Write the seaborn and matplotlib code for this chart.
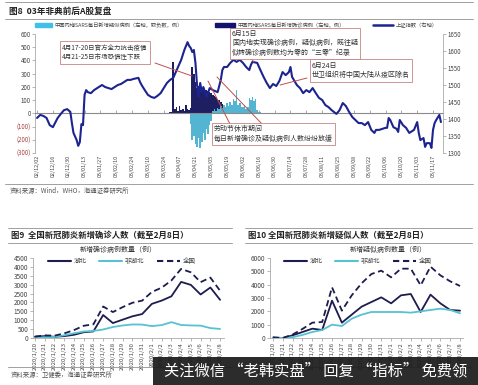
import numpy as np
import pandas as pd
import matplotlib
matplotlib.use('Agg')
import matplotlib.pyplot as plt
import seaborn as sns
from matplotlib.lines import Line2D
from matplotlib.patches import Patch, Rectangle
from matplotlib.ticker import FuncFormatter

# ---------------- data: 图8 ----------------
top_labels = ['02/12/02', '02/12/16', '02/12/30', '03/01/13', '03/01/27', '03/02/10',
              '03/02/24', '03/03/10', '03/03/24', '03/04/07', '03/04/21', '03/05/05',
              '03/05/19', '03/06/02', '03/06/16', '03/06/30', '03/07/14', '03/07/28',
              '03/08/11', '03/08/25', '03/09/08', '03/09/22', '03/10/06', '03/10/20',
              '03/11/03', '03/11/17']
label_day = list(range(0, 251, 10))

sh_day = [0, 2, 4, 6, 8, 10, 13, 15, 17, 19, 21, 22, 23, 25, 26, 27, 28, 29, 30, 31,
          32, 34, 36, 39, 41, 43, 45, 47, 49, 51, 53, 55, 57, 59, 61, 64, 65, 66, 68, 70,
          72, 74, 76, 78, 80, 82, 84, 86, 89, 91, 93, 95, 96, 97, 98, 99, 100, 101, 102, 103,
          104, 105, 107, 109, 111, 114, 116, 117, 118, 120, 122, 124, 126, 128, 130, 132, 134, 135, 136, 139,
          141, 143, 145, 147, 149, 151, 153, 155, 157, 159, 160, 161, 164, 166, 168, 170, 172, 174, 176, 178,
          180, 182, 184, 186, 189, 191, 193, 195, 197, 199, 201, 203, 205, 207, 209, 211, 213, 214, 216, 218,
          220, 221, 222, 223, 225, 227, 228, 229, 231, 233, 235, 238, 240, 241, 242, 244, 245, 246, 248, 249,
          250, 251, 252, 254, 255]
sh_index = [1403, 1412, 1409, 1403, 1382, 1376, 1403, 1415, 1426, 1429, 1421, 1388, 1359, 1338, 1321, 1332, 1385, 1382, 1471, 1485,
            1479, 1476, 1485, 1494, 1500, 1494, 1491, 1488, 1494, 1500, 1503, 1509, 1515, 1515, 1518, 1521, 1509, 1500, 1485, 1471,
            1465, 1462, 1468, 1476, 1491, 1506, 1515, 1521, 1553, 1574, 1603, 1626, 1615, 1609, 1597, 1603, 1565, 1500, 1465, 1506,
            1479, 1494, 1465, 1491, 1485, 1479, 1515, 1544, 1553, 1553, 1565, 1574, 1568, 1574, 1565, 1553, 1544, 1559, 1568, 1565,
            1544, 1524, 1506, 1491, 1503, 1497, 1512, 1538, 1529, 1538, 1553, 1524, 1500, 1491, 1476, 1485, 1479, 1491, 1476, 1462,
            1456, 1441, 1435, 1426, 1415, 1426, 1447, 1438, 1421, 1406, 1397, 1388, 1388, 1382, 1391, 1368, 1359, 1368, 1368, 1371,
            1374, 1374, 1403, 1397, 1376, 1371, 1362, 1397, 1382, 1374, 1359, 1368, 1391, 1359, 1338, 1344, 1318, 1329, 1329, 1315,
            1368, 1388, 1397, 1412, 1391]

bar_day = list(range(82, 166))
sars_confirmed = [0, 0, 8, 12, 385, 30, 45, 20, 55, 25, 32, 15, 60, 35, 25, 40, 350, 300, 235, 195,
                  205, 190, 185, 195, 180, 175, 168, 160, 150, 142, 130, 120, 112, 100, 88, 72, 60, 50, 42, 32,
                  25, 20, 16, 13, 11, 10, 8, 7, 6, 6, 5, 5, 4, 5, 3, 4, 3, 3, 2, 3,
                  2, 2, 3, 2, 2, 1, 2, 1, 1, 2, 1, 1, 1, 0, 1, 0, 1, 0, 1, 0,
                  0, 1, 0, 0]
sars_suspected = [0, 0, 0, 0, 0, 0, 0, 0, 0, 0, 0, 0, 0, 0, 0, -80, -200, -170, -235, -255,
                  -190, -260, -220, -150, -200, -120, -160, -90, -60, 20, 35, 15, 40, 30, 55, 40, 65, 50, 75, 55,
                  85, 60, 110, 90, 175, 60, 80, 50, 45, 65, 30, 45, 115, 100, 122, 95, 110, 25, 10, 8,
                  5, 0, 0, 0, 0, 0, 0, 0, 0, 0, 0, 0, 0, 0, 0, 0, 0, 0, 0, 0,
                  0, 0, 0, 0]

# ---------------- data: 图9 / 图10 ----------------
covid_dates = ['2020/1/20', '2020/1/21', '2020/1/22', '2020/1/23', '2020/1/24', '2020/1/25',
               '2020/1/26', '2020/1/27', '2020/1/28', '2020/1/29', '2020/1/30', '2020/1/31',
               '2020/2/1', '2020/2/2', '2020/2/3', '2020/2/4', '2020/2/5', '2020/2/6',
               '2020/2/7', '2020/2/8']
hubei_conf = [72, 105, 69, 105, 180, 323, 371, 1291, 840, 1032, 1220, 1347, 1921, 2103, 2345, 3156, 2987, 2447, 2841, 2147]
nonhubei_conf = [5, 44, 62, 154, 264, 365, 398, 480, 619, 705, 762, 755, 669, 726, 890, 731, 707, 696, 558, 509]
national_conf = [77, 149, 131, 259, 444, 688, 769, 1771, 1459, 1737, 1982, 2102, 2590, 2829, 3235, 3887, 3694, 3143, 3399, 2656]

hubei_susp = [0, 0, 200, 450, 700, 600, 2800, 1150, 1750, 2350, 2700, 3050, 2600, 3200, 3300, 1950, 3250, 2600, 2100, 2050]
nonhubei_susp = [50, 0, 60, 230, 450, 600, 1000, 900, 1450, 1750, 1950, 1950, 1950, 1950, 1900, 2000, 2100, 2200, 2100, 1850]
national_susp = [50, 0, 260, 680, 1150, 1200, 3800, 2050, 3200, 4100, 4800, 5050, 4550, 5200, 5200, 3950, 5350, 4700, 4250, 3900]

series_names = ['湖北', '非湖北', '全国']

# ---------------- style ----------------
sns.set_theme(style='white')
plt.rcParams['font.family'] = ['Noto Sans CJK SC', 'DejaVu Sans']
plt.rcParams['axes.unicode_minus'] = False

W, H = 478, 385
fig = plt.figure(figsize=(W / 100, H / 100), dpi=100)


def fx(x):
    return x / W


def fy(y):
    return 1 - y / H


def rect(x0, y0, x1, y1):
    return [x0 / W, 1 - y1 / H, (x1 - x0) / W, (y1 - y0) / H]


def hline(y, x0, x1, color='#a0a0a0', lw=0.7):
    fig.add_artist(Line2D([fx(x0), fx(x1)], [fy(y), fy(y)], transform=fig.transFigure,
                          color=color, lw=lw))


NAVY_BAR = '#13146e'
CYAN_BAR = '#3fc0e8'
LINE_BLUE = '#1c2490'
DARK = '#1d1c4e'
TEAL = '#56c2d2'
TXT = '#333333'

# ---------------- 图8 ----------------
ax = fig.add_axes(rect(35, 34, 443, 153))
df_bar = pd.DataFrame({
    'day': bar_day * 2,
    'cases': sars_confirmed + sars_suspected,
    'kind': ['确诊'] * len(bar_day) + ['疑似'] * len(bar_day),
})
sns.barplot(data=df_bar, x='day', y='cases', hue='kind', hue_order=['确诊', '疑似'],
            palette={'确诊': NAVY_BAR, '疑似': CYAN_BAR}, native_scale=True, dodge=False,
            width=1.0, errorbar=None, linewidth=0, legend=False, ax=ax)
ax.set_xlim(-1.3, 256.3)
ax.set_ylim(-300, 600)
ax.set_yticks(range(-300, 601, 100))
ax.yaxis.set_major_formatter(FuncFormatter(lambda v, p: f'({abs(int(v))})' if v < 0 else f'{int(v)}'))
ax.tick_params(axis='y', left=True, labelsize=4.4, length=2, width=0.5, pad=1, color='#999')
for lbl in ax.get_yticklabels():
    lbl.set_color('#a8423a' if '(' in lbl.get_text() else '#444')
for s in ['top', 'right']:
    ax.spines[s].set_visible(False)
ax.spines['left'].set_color('#aaaaaa')
ax.spines['left'].set_linewidth(0.6)
ax.spines['bottom'].set_position(('data', 0))
ax.spines['bottom'].set_color('#8a8a8a')
ax.spines['bottom'].set_linewidth(0.8)
ax.set_xticks(label_day)
ax.tick_params(axis='x', bottom=True, labelbottom=False, length=2, width=0.5, direction='in', color='#888')
ax.set_xlabel('')
ax.set_ylabel('')
sec = ax.secondary_xaxis('bottom')
sec.set_xticks(label_day, labels=top_labels)
sec.tick_params(length=0, labelsize=3.9, rotation=90, pad=1.5, labelcolor='#444')
sec.spines['bottom'].set_visible(False)

ax2 = ax.twinx()
sns.lineplot(x=sh_day, y=sh_index, ax=ax2, color=LINE_BLUE, lw=1.5)
ax2.set_ylim(1300, 1650)
ax2.set_yticks(range(1300, 1651, 50))
ax2.tick_params(axis='y', right=True, labelsize=4.4, length=2, width=0.5, pad=1.5, color='#999', labelcolor='#444')
for s in ['top', 'left', 'bottom']:
    ax2.spines[s].set_visible(False)
ax2.spines['right'].set_color('#aaaaaa')
ax2.spines['right'].set_linewidth(0.6)
ax2.set_xlabel('')
ax2.set_ylabel('')

# title & header lines
hline(2, 5, 473)
hline(19, 5, 473)
fig.text(fx(9), fy(11), '图8  03年非典前后A股复盘', fontsize=6.2, fontweight='bold', color='#222', va='center')

# legends (top)
leg_kw = dict(frameon=False, fontsize=3.8, borderpad=0, borderaxespad=0, handletextpad=0.5,
              loc='center left', labelcolor='#444')
fig.legend([Patch(color=CYAN_BAR)], ['中国内地SARS每日新增疑似病例（左轴，取负数，例）'],
           bbox_to_anchor=(fx(35), fy(25)), handlelength=3.2, handleheight=0.9, **leg_kw)
fig.legend([Patch(color=NAVY_BAR)], ['中国内地SARS每日新增确诊病例（左轴，例）'],
           bbox_to_anchor=(fx(215), fy(25)), handlelength=3.8, handleheight=0.9, **leg_kw)
fig.legend([Line2D([], [], color=LINE_BLUE, lw=1.8)], ['上证指数（右轴）'],
           bbox_to_anchor=(fx(373), fy(25)), handlelength=3.8, **leg_kw)

# annotation boxes
box_kw = dict(boxstyle='square,pad=0.35', fc='white', ec='#c58585', lw=0.6)
lead = '#c0504d'


def leader(x0, y0, x1, y1):
    fig.add_artist(Line2D([fx(x0), fx(x1)], [fy(y0), fy(y1)], transform=fig.transFigure,
                          color=lead, lw=0.7, zorder=2))


leader(155, 63, 192, 76)
leader(250, 57, 254, 62)
leader(307, 78, 280, 85)
leader(230, 124, 208, 81)
leader(262, 124, 217, 77)
fig.text(fx(62), fy(52.5), '4月17-20日官方全力抗击疫情\n4月21-25日市场恐慌性下跌', fontsize=4.7,
         color=TXT, va='center', ha='left', linespacing=1.3, bbox=box_kw, zorder=5)
fig.text(fx(232), fy(43.5), '6月15日\n国内地实现确诊病例，疑似病例，既往疑\n似转确诊病例数均为零的“三零”纪录',
         fontsize=5.0, color=TXT, va='center', ha='left', linespacing=1.2, bbox=box_kw, zorder=5)
fig.text(fx(312), fy(70.5), '6月24日\n世卫组织将中国大陆从疫区除名', fontsize=5.0, color=TXT,
         va='center', ha='left', linespacing=1.25, bbox=box_kw, zorder=5)
fig.text(fx(214), fy(134), '劳动节休市期间\n每日新增确诊及疑似病例人数纷纷放缓', fontsize=5.0, color=TXT,
         va='center', ha='left', linespacing=1.2, bbox=box_kw, zorder=5)

hline(184, 5, 473)
fig.text(fx(10), fy(190.5), '资料来源：Wind，WHO，海通证券研究所', fontsize=4.6, color='#555', va='center')


# ---------------- 图9 / 图10 ----------------
def covid_panel(box, hubei, nonhubei, national, ymax, ystep, title_xy, chart_title, legend_x):
    a = fig.add_axes(box)
    n = len(covid_dates)
    df = pd.DataFrame({
        'idx': list(range(n)) * 3,
        'val': hubei + nonhubei + national,
        'series': [series_names[0]] * n + [series_names[1]] * n + [series_names[2]] * n,
    })
    sns.lineplot(data=df, x='idx', y='val', hue='series', style='series', hue_order=series_names,
                 style_order=series_names,
                 palette={'湖北': DARK, '非湖北': TEAL, '全国': DARK},
                 dashes={'湖北': '', '非湖北': '', '全国': (3.5, 2)},
                 linewidth=1.3, legend=False, ax=a)
    a.set_ylim(0, ymax)
    a.set_yticks(range(0, ymax + 1, ystep))
    a.set_xticks(range(n), labels=covid_dates)
    a.tick_params(axis='x', bottom=True, labelsize=4.3, rotation=90, length=2, width=0.5, pad=1,
                  color='#999', labelcolor='#444')
    a.tick_params(axis='y', left=True, labelsize=4.6, length=2, width=0.5, pad=1.5,
                  color='#999', labelcolor='#444')
    for s in ['top', 'right']:
        a.spines[s].set_visible(False)
    for s in ['left', 'bottom']:
        a.spines[s].set_color('#aaaaaa')
        a.spines[s].set_linewidth(0.6)
    a.set_xlabel('')
    a.set_ylabel('')
    fig.text(fx(title_xy[0]), fy(title_xy[1]), chart_title, fontsize=5.0, color=TXT, ha='center', va='center')
    handles = [Line2D([], [], color=DARK, lw=1.5),
               Line2D([], [], color=TEAL, lw=1.5),
               Line2D([], [], color=DARK, lw=1.5, ls=(0, (3, 1.8)))]
    a.legend(handles, series_names, loc='center left', bbox_to_anchor=(fx(legend_x), fy(261)),
             bbox_transform=fig.transFigure, ncol=3, frameon=False, fontsize=4.7, handlelength=3.5,
             handletextpad=0.45, columnspacing=1.9, borderpad=0, borderaxespad=0, labelcolor='#444')
    return a


ax_b = covid_panel(rect(33, 258, 224, 338), hubei_conf, nonhubei_conf, national_conf, 4500, 500,
                   (118, 250), '新增确诊病例数量（例）', 48)
ax_b.set_xlim(-0.2, 19.4)
ax_c = covid_panel(rect(270, 258, 463, 338), hubei_susp, nonhubei_susp, national_susp, 6000, 1000,
                   (388, 250), '新增疑似病例数量（例）', 284)
ax_c.set_xlim(-0.3, 19.3)

hline(228, 8, 232)
hline(243, 8, 232)
hline(228, 245, 472)
hline(243, 245, 472)
fig.text(fx(11), fy(235.5), '图9  全国新冠肺炎新增确诊人数（截至2月8日）', fontsize=6.0, fontweight='bold',
         color='#222', va='center')
fig.text(fx(248), fy(235.5), '图10 全国新冠肺炎新增疑似人数（截至2月8日）', fontsize=6.0, fontweight='bold',
         color='#222', va='center')
hline(367, 8, 232)
hline(367, 245, 472)
fig.text(fx(11), fy(375), '资料来源：卫健委，海通证券研究所', fontsize=4.6, color='#555', va='center')

# watermark overlay
fig.add_artist(Rectangle((fx(153), 0), fx(478) - fx(153), (385 - 357) / H, transform=fig.transFigure,
                         facecolor='#1c1c1c', edgecolor='none', alpha=0.93, zorder=10))
fig.text(fx(316), fy(371), '关注微信 “老韩实盘” 回复 “指标” 免费领', fontsize=11, color='white',
         ha='center', va='center', zorder=11)

fig.savefig('out.png', dpi=100)
